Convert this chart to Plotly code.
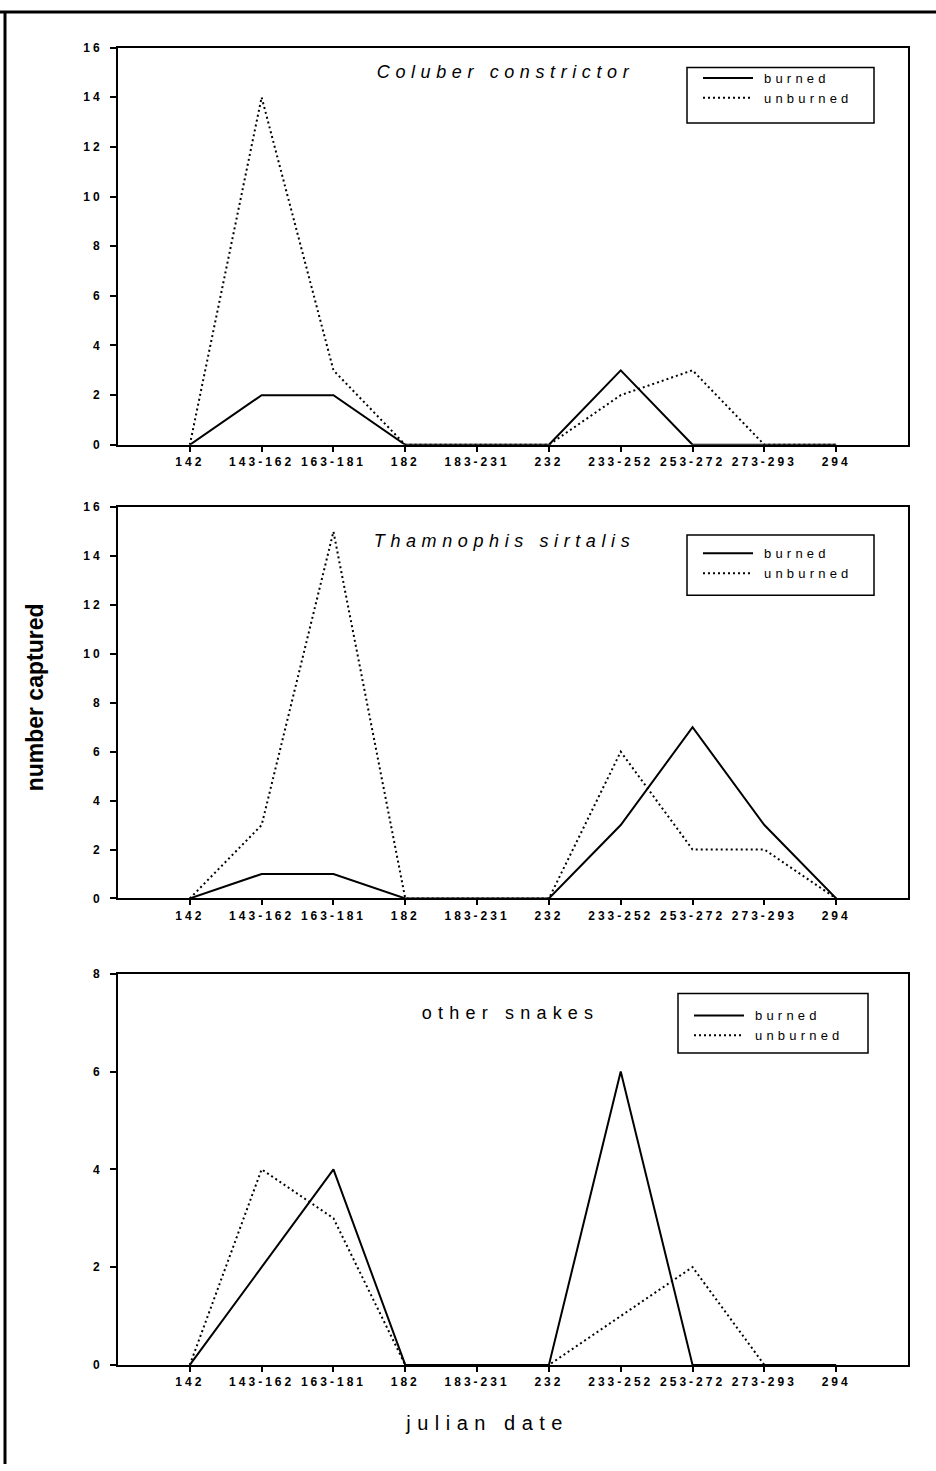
import plotly.graph_objects as go

# ---------------- data ----------------
categories = ["142", "143-162", "163-181", "182", "183-231", "232",
              "233-252", "253-272", "273-293", "294"]

coluber_burned = [0, 2, 2, 0, 0, 0, 3, 0, 0, 0]
coluber_unburned = [0, 14, 3, 0, 0, 0, 2, 3, 0, 0]

thamnophis_burned = [0, 1, 1, 0, 0, 0, 3, 7, 3, 0]
thamnophis_unburned = [0, 3, 15, 0, 0, 0, 6, 2, 2, 0]

other_burned = [0, 2, 4, 0, 0, 0, 6, 0, 0, 0]
other_unburned = [0, 4, 3, 0, 0, 0, 1, 2, 0, 0]

panel_titles = ["Coluber constrictor", "Thamnophis sirtalis", "other snakes"]
panel_italic = [True, True, False]
y_max = [16, 16, 8]
y_step = [2, 2, 2]
series_names = ["burned", "unburned"]

x_label = "julian date"
y_label = "number captured"

# ---------------- layout helpers (pixel -> paper) ----------------
W, H = 936, 1471
def px(x):
    return x / W
def py(y):
    return 1 - y / H

plot_left, plot_right = 118, 908
panel_px = [(41, 442), (505, 900), (976, 1371)]          # top, bottom
legend_box = [(687, 61, 874, 117), (687, 533, 874, 594), (678, 996, 868, 1056)]
legend_top_px = [56.5, 536.5, 1003]
title_pos = [(506, 66), (504, 539), (511, 1016)]

FONT = "Arial, Liberation Sans, Helvetica, sans-serif"
positions = list(range(1, len(categories) + 1))

data_sets = [
    (coluber_burned, coluber_unburned),
    (thamnophis_burned, thamnophis_unburned),
    (other_burned, other_unburned),
]

fig = go.Figure()
legend_names = ["legend", "legend2", "legend3"]

for i, (burned, unburned) in enumerate(data_sets):
    xa = "x" if i == 0 else f"x{i+1}"
    ya = "y" if i == 0 else f"y{i+1}"
    fig.add_trace(go.Scatter(
        x=positions, y=burned, mode="lines", name=series_names[0],
        line=dict(color="black", width=2),
        xaxis=xa, yaxis=ya, legend=legend_names[i]))
    fig.add_trace(go.Scatter(
        x=positions, y=unburned, mode="lines", name=series_names[1],
        line=dict(color="black", width=2, dash="2px,3px"),
        xaxis=xa, yaxis=ya, legend=legend_names[i]))

layout = dict(
    width=W, height=H,
    margin=dict(l=0, r=0, t=0, b=0),
    paper_bgcolor="white", plot_bgcolor="white",
    font=dict(family=FONT, color="black"),
    showlegend=True,
)

shapes = []
annotations = []

for i in range(3):
    top, bot = panel_px[i]
    xkey = "xaxis" if i == 0 else f"xaxis{i+1}"
    ykey = "yaxis" if i == 0 else f"yaxis{i+1}"
    yanchor = "y" if i == 0 else f"y{i+1}"
    xanchor = "x" if i == 0 else f"x{i+1}"
    layout[xkey] = dict(
        domain=[px(plot_left), px(plot_right)],
        anchor=yanchor, range=[0, len(categories) + 1],
        tickmode="array", tickvals=positions, ticktext=categories,
        ticks="outside", ticklen=5, tickwidth=1.5, tickcolor="black",
        showline=True, linecolor="black", linewidth=2, mirror=True,
        showgrid=False, zeroline=False,
        tickfont=dict(family=FONT, size=12, color="black", weight="bold"),
        fixedrange=True,
    )
    layout[ykey] = dict(
        domain=[py(bot), py(top)],
        anchor=xanchor, range=[0, y_max[i]],
        tickmode="linear", tick0=0, dtick=y_step[i],
        ticks="outside", ticklen=6, tickwidth=1.5, tickcolor="black",
        showline=True, linecolor="black", linewidth=2, mirror=True,
        showgrid=False, zeroline=False,
        tickfont=dict(family=FONT, size=12, color="black", weight="bold"),
        ticklabelstandoff=5,
        fixedrange=True,
    )
    # legend
    lx0, ly0, lx1, ly1 = legend_box[i]
    layout[legend_names[i]] = dict(
        x=px(lx0 + 11), y=py(legend_top_px[i]), xanchor="left", yanchor="top",
        bgcolor="rgba(0,0,0,0)", borderwidth=0,
        font=dict(family=FONT, size=13, color="black"),
        itemwidth=50, tracegroupgap=0,
    )
    shapes.append(dict(type="rect", xref="paper", yref="paper",
                       x0=px(lx0), x1=px(lx1), y0=py(ly1), y1=py(ly0),
                       line=dict(color="black", width=1.5),
                       fillcolor="rgba(0,0,0,0)", layer="above"))
    # panel title
    tx, ty = title_pos[i]
    annotations.append(dict(
        text=panel_titles[i], x=px(tx), y=py(ty), xref="paper", yref="paper",
        xanchor="center", yanchor="middle", showarrow=False,
        font=dict(family=FONT, size=18, color="black",
                  style="italic" if panel_italic[i] else "normal"),
    ))

annotations.append(dict(
    text=y_label, x=px(35), y=py(697), xref="paper", yref="paper",
    xanchor="center", yanchor="middle", showarrow=False, textangle=-90,
    font=dict(family=FONT, size=23, color="black", weight="bold"),
))
annotations.append(dict(
    text=x_label, x=px(487), y=py(1430), xref="paper", yref="paper",
    xanchor="center", yanchor="middle", showarrow=False,
    font=dict(family=FONT, size=20, color="black"),
))

# outer page frame (top and left edges)
shapes.append(dict(type="line", xref="paper", yref="paper",
                   x0=0, x1=1, y0=py(5), y1=py(5),
                   line=dict(color="black", width=3)))
shapes.append(dict(type="line", xref="paper", yref="paper",
                   x0=px(5), x1=px(5), y0=0, y1=py(5),
                   line=dict(color="black", width=3)))

layout["shapes"] = shapes
layout["annotations"] = annotations
fig.update_layout(**layout)

post_js = """
document.body.style.margin = '0';
document.body.style.padding = '0';
document.documentElement.style.overflow = 'hidden';
var css = [
  '.xtick text, .x2tick text, .x3tick text { letter-spacing: 3px; }',
  '.ytick text, .y2tick text, .y3tick text { letter-spacing: 3px; }',
  'text.legendtext { letter-spacing: 4.2px; }',
  '.scrollbox { clip-path: none !important; }',
  '.annotation[data-index="0"] text { letter-spacing: 5.6px; }',
  '.annotation[data-index="1"] text { letter-spacing: 5.6px; }',
  '.annotation[data-index="2"] text { letter-spacing: 6.2px; }',
  '.annotation[data-index="4"] text { letter-spacing: 6.5px; }'
].join('\\n');
var st = document.createElement('style');
st.textContent = css;
document.head.appendChild(st);
function fixLegends() {
  var gd = document.getElementById('{plot_id}');
  if (!gd) return;
  gd.querySelectorAll('text').forEach(function (t) {
    var s = (t.textContent || '').trim();
    if (s === 'burned' || s === 'unburned') {
      t.style.setProperty('letter-spacing', '4.2px', 'important');
      t.setAttribute('dx', '6');
    }
  });
  gd.querySelectorAll('[clip-path]').forEach(function (el) {
    var c = el.getAttribute('clip-path') || '';
    if (c.indexOf('legend') >= 0) el.removeAttribute('clip-path');
  });
}
fixLegends();
setTimeout(fixLegends, 50);
setTimeout(fixLegends, 300);
"""

fig.write_html("out.html", post_script=post_js, config={"displayModeBar": False})
